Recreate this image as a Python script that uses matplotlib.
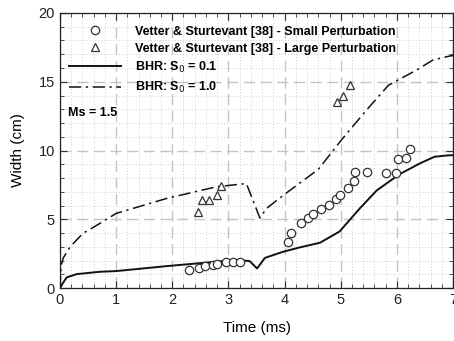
import matplotlib
matplotlib.use("Agg")
import matplotlib.pyplot as plt
from matplotlib.ticker import MultipleLocator

plt.rcParams['font.family'] = ['Liberation Sans', 'DejaVu Sans']

# experimental data, Vetter & Sturtevant
small_t = [2.30, 2.47, 2.59, 2.73, 2.80, 2.95, 3.08, 3.20,
           4.06, 4.12, 4.30, 4.41, 4.51, 4.65, 4.79, 4.92, 4.99, 5.13, 5.24, 5.25,
           5.47, 5.80, 5.98, 6.02, 6.17, 6.24]
small_w = [1.31, 1.48, 1.60, 1.67, 1.72, 1.87, 1.87, 1.87,
           3.37, 4.02, 4.75, 5.11, 5.38, 5.75, 6.04, 6.45, 6.76, 7.25, 7.80, 8.44,
           8.44, 8.39, 8.39, 9.40, 9.45, 10.10]
large_t = [2.46, 2.53, 2.66, 2.79, 2.86, 4.93, 5.04, 5.17]
large_w = [5.55, 6.40, 6.40, 6.76, 7.42, 13.55, 13.96, 14.76]

# BHR model, S0 = 0.1
bhr1_t = [0.0, 0.05, 0.12, 0.30, 0.71, 1.0, 1.9, 2.97, 3.2, 3.38, 3.51, 3.65, 3.97,
          4.27, 4.63, 4.98, 5.34, 5.64, 6.05, 6.41, 6.67, 6.91, 7.0]
bhr1_w = [0.0, 0.35, 0.78, 1.02, 1.19, 1.24, 1.60, 1.99, 2.04, 1.96, 1.43, 2.20, 2.64,
          2.96, 3.30, 4.12, 5.80, 7.10, 8.29, 9.07, 9.55, 9.65, 9.66]
# BHR model, S0 = 1.0
bhr2_t = [0.0, 0.02, 0.06, 0.18, 0.41, 0.71, 1.0, 1.9, 2.79, 3.32, 3.56, 3.68, 4.0,
          4.6, 5.01, 5.46, 5.85, 6.35, 6.64, 6.94, 7.0]
bhr2_w = [0.0, 1.6, 2.2, 3.0, 3.98, 4.70, 5.43, 6.52, 7.37, 7.60, 5.10, 5.80, 6.82,
          8.63, 10.76, 12.95, 14.75, 15.85, 16.58, 16.87, 16.90]

fig = plt.figure(figsize=(4.54, 3.41), dpi=100)
ax = fig.add_axes([0.132, 0.155, 0.866, 0.807])

ax.plot(small_t, small_w, linestyle='none', marker='o', ms=6, mfc='white', mec='#333333',
        mew=0.9, label='Vetter & Sturtevant [38] - Small Perturbation', zorder=4)
ax.plot(large_t, large_w, linestyle='none', marker='^', ms=5.5, mfc='white', mec='#333333',
        mew=0.9, label='Vetter & Sturtevant [38] - Large Perturbation', zorder=4)
ax.plot(bhr1_t, bhr1_w, color='#111111', lw=1.4, label='BHR: S$_0$ = 0.1', zorder=3)
ax.plot(bhr2_t, bhr2_w, color='#111111', lw=1.1, dashes=(8, 3, 1.5, 3),
        label='BHR: S$_0$ = 1.0', zorder=3)

ax.set_xlim(0, 7)
ax.set_ylim(0, 20)
ax.xaxis.set_major_locator(MultipleLocator(1))
ax.xaxis.set_minor_locator(MultipleLocator(0.2))
ax.yaxis.set_major_locator(MultipleLocator(5))
ax.yaxis.set_minor_locator(MultipleLocator(1))
ax.grid(which='major', color='#c4c4c4', linestyle=(0, (8, 4)), lw=1.0)
ax.grid(which='minor', color='#d0d0d0', linestyle=(0, (1, 2)), lw=0.7)
ax.set_axisbelow(True)
ax.tick_params(which='both', direction='in', top=True, right=True, labelsize=10.5,
               color='#333333', labelcolor='#222222')
ax.tick_params(which='major', length=5)
ax.tick_params(which='minor', length=3)
for s in ax.spines.values():
    s.set_color('#222222')
    s.set_linewidth(0.9)

ax.set_xlabel('Time (ms)', fontsize=11, labelpad=10)
ax.set_ylabel('Width (cm)', fontsize=11, labelpad=10)

leg = ax.legend(loc='upper left', bbox_to_anchor=(0.0, 0.985), frameon=False,
                prop={'weight': 'bold', 'size': 9}, handlelength=4.2,
                handletextpad=1.1, labelspacing=0.4, borderaxespad=0.3)

ax.text(0.02, 0.635, 'Ms = 1.5', transform=ax.transAxes, fontsize=9,
        fontweight='bold', va='center', ha='left')

fig.savefig('out.png', dpi=100)
